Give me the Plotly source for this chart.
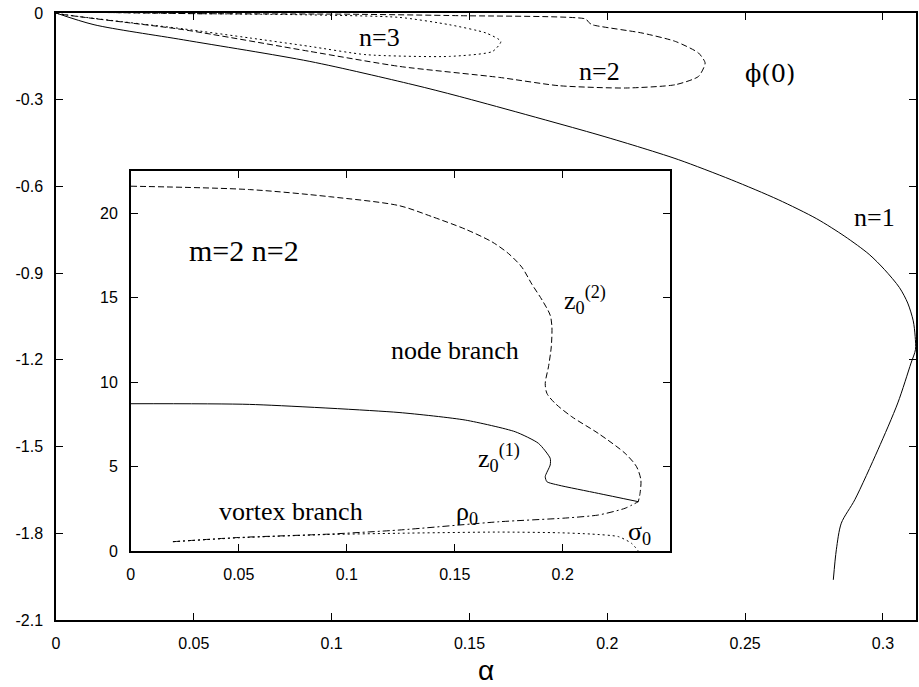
import plotly.graph_objects as go

# ---- main panel: phi(0) versus alpha ----
n1_x = [0, 0.0138, 0.0463, 0.0921, 0.1295, 0.1463, 0.1945, 0.2110, 0.2259, 0.2450, 0.2620, 0.2760, 0.2862,
        0.2950, 0.3006, 0.3060, 0.3090, 0.3110, 0.3117, 0.3118, 0.3102, 0.3054, 0.2982, 0.2898,
        0.2849, 0.2831, 0.2820]
n1_y = [0, -0.0405, -0.093, -0.1675, -0.248, -0.2886, -0.4152, -0.462, -0.5076, -0.577, -0.6457, -0.712, -0.773,
        -0.835, -0.888, -0.950, -1.0035, -1.065, -1.119, -1.165, -1.211, -1.349, -1.511, -1.684,
        -1.765, -1.857, -1.961]

n2_x = [0, 0.0523, 0.1066, 0.1463, 0.1922, 0.1933, 0.1945, 0.2126, 0.2247, 0.2331, 0.2355,
        0.2331, 0.2247, 0.2066, 0.1825, 0.1608, 0.1246, 0.0921, 0.0463, 0]
n2_y = [0, -0.0024, -0.0042, -0.0093, -0.0208, -0.0325, -0.0405, -0.0692, -0.0983, -0.1384, -0.173,
        -0.2194, -0.2481, -0.2595, -0.2516, -0.2228, -0.1848, -0.1329, -0.0578, 0]

n3_x = [0, 0.0523, 0.0885, 0.1246, 0.1427, 0.1560, 0.1614, 0.1584, 0.1427, 0.1126, 0.0921, 0.0704, 0.0463, 0]
n3_y = [0, -0.0024, -0.0059, -0.0152, -0.0405, -0.0692, -0.0983, -0.1329, -0.1502, -0.1443,
        -0.1156, -0.0865, -0.055, 0]

main_xticks = [0, 0.05, 0.1, 0.15, 0.2, 0.25, 0.3]
main_xlabels = ["0", "0.05", "0.1", "0.15", "0.2", "0.25", "0.3"]
main_yticks = [0, -0.3, -0.6, -0.9, -1.2, -1.5, -1.8, -2.1]
main_ylabels = ["0", "-0.3", "-0.6", "-0.9", "-1.2", "-1.5", "-1.8", "-2.1"]

# ---- inset: m=2 n=2 ----
z2_x = [0, 0.055, 0.092, 0.1242, 0.1394, 0.155, 0.1673, 0.175, 0.1811, 0.1857, 0.1905, 0.1942, 0.195,
        0.1947, 0.1934, 0.1919, 0.1927, 0.1965, 0.2042, 0.2165, 0.2289, 0.2342, 0.2362, 0.2358, 0.235]
z2_y = [21.6, 21.4, 20.98, 20.45, 19.8, 19.05, 18.3, 17.6, 16.8, 15.8, 14.85, 13.96, 13.27,
        12.09, 10.9, 9.92, 9.33, 8.74, 7.95, 6.96, 5.78, 4.99, 4.2, 3.41, 2.92]

z1_x = [0, 0.055, 0.1242, 0.155, 0.178, 0.1888, 0.1942, 0.1942, 0.1919, 0.1927, 0.198, 0.2165, 0.235]
z1_y = [8.72, 8.68, 8.2, 7.75, 7.06, 6.37, 5.49, 5.09, 4.40, 4.10, 3.9, 3.41, 2.92]

rho_x = [0.0195, 0.05, 0.0919, 0.1242, 0.1704, 0.2012, 0.2165, 0.2289, 0.235]
rho_y = [0.55, 0.80, 1.0, 1.24, 1.73, 1.95, 2.13, 2.53, 2.92]

sig_x = [0.0195, 0.05, 0.09, 0.1242, 0.17, 0.198, 0.2134, 0.2258, 0.2319, 0.235]
sig_y = [0.55, 0.78, 0.97, 1.05, 1.12, 1.08, 1.0, 0.85, 0.45, 0.0]

inset_xticks = [0, 0.05, 0.1, 0.15, 0.2, 0.25]
inset_xlabels = ["0", "0.05", "0.1", "0.15", "0.2", "0.25"]
inset_yticks = [0, 5, 10, 15, 20]
inset_ylabels = ["0", "5", "10", "15", "20"]

BLACK = "black"
fig = go.Figure()

def add(x, y, dash, xa="x", ya="y", smoothing=0.6):
    fig.add_trace(go.Scatter(x=x, y=y, mode="lines", xaxis=xa, yaxis=ya,
                             line=dict(color=BLACK, width=1, dash=dash, shape="spline", smoothing=smoothing),
                             showlegend=False, hoverinfo="skip"))

add(n1_x, n1_y, "solid", smoothing=0.8)
add(n2_x, n2_y, "6px,3px")
add(n3_x, n3_y, "2px,3px")
add(z2_x, z2_y, "6px,3px", "x2", "y2", smoothing=0.8)
add(z1_x, z1_y, "solid", "x2", "y2")
add(rho_x, rho_y, "7px,3px,2px,3px", "x2", "y2")
add(sig_x, sig_y, "2px,3px", "x2", "y2")

tickfont = dict(family="Liberation Sans, Arial", size=16, color=BLACK)
axis_common = dict(showline=True, linecolor=BLACK, linewidth=1.5, mirror="ticks",
                   ticks="inside", ticklen=7, tickwidth=1, tickcolor=BLACK,
                   showgrid=False, zeroline=False, tickfont=tickfont, ticklabelstandoff=8)

fig.update_layout(
    width=919, height=687,
    margin=dict(l=56, r=1, t=13, b=67),
    paper_bgcolor="white", plot_bgcolor="white",
    xaxis=dict(range=[0, 0.312], tickmode="array", tickvals=main_xticks, ticktext=main_xlabels,
               domain=[0, 1], **axis_common),
    yaxis=dict(range=[-2.1, 0], tickmode="array", tickvals=main_yticks, ticktext=main_ylabels,
               domain=[0, 1], **axis_common),
    xaxis2=dict(range=[0, 0.2495], tickmode="array", tickvals=inset_xticks, ticktext=inset_xlabels,
                domain=[0.087, 0.7135], anchor="y2", **axis_common),
    yaxis2=dict(range=[0, 22.5], tickmode="array", tickvals=inset_yticks, ticktext=inset_ylabels,
                domain=[0.1137, 0.7397], anchor="x2", **axis_common),
)

serif = dict(family="Liberation Serif, Times New Roman, serif", size=26, color=BLACK)

def label(text, x, y, xref="x", yref="y", xanchor="center", font=serif):
    fig.add_annotation(text=text, x=x, y=y, xref=xref, yref=yref, showarrow=False,
                       xanchor=xanchor, yanchor="middle", font=font)

label("n=3", 0.1174, -0.0855)
label("n=2", 0.1973, -0.203)
label("ϕ(0)", 0.2591, -0.21, font=dict(family="DejaVu Serif, Liberation Serif, serif", size=24, color=BLACK))
label("n=1", 0.2971, -0.708)

label("m=2 n=2", 0.0522, 17.8, "x2", "y2", font=dict(family=serif["family"], size=30, color=BLACK))
label("node branch", 0.150, 11.9, "x2", "y2")
label("z<sub>0</sub><sup>(2)</sup>", 0.1995, 14.85, "x2", "y2", xanchor="left")
label("z<sub>0</sub><sup>(1)</sup>", 0.1597, 5.5, "x2", "y2", xanchor="left")
label("ρ<sub>0</sub>", 0.1556, 2.25, "x2", "y2")
label("σ<sub>0</sub>", 0.2355, 1.07, "x2", "y2")
label("vortex branch", 0.0743, 2.31, "x2", "y2")

# x-axis title
fig.add_annotation(text="α", x=0.5, y=-0.0824, xref="paper", yref="paper", showarrow=False,
                   xanchor="center", yanchor="middle",
                   font=dict(family="Liberation Sans, Arial", size=28, color=BLACK))

# remove the default page margin so the 919x687 figure fills the window exactly
fig.write_html("out.html", config={"displayModeBar": False},
               post_script="document.body.style.margin='0';document.body.style.overflow='hidden';")
